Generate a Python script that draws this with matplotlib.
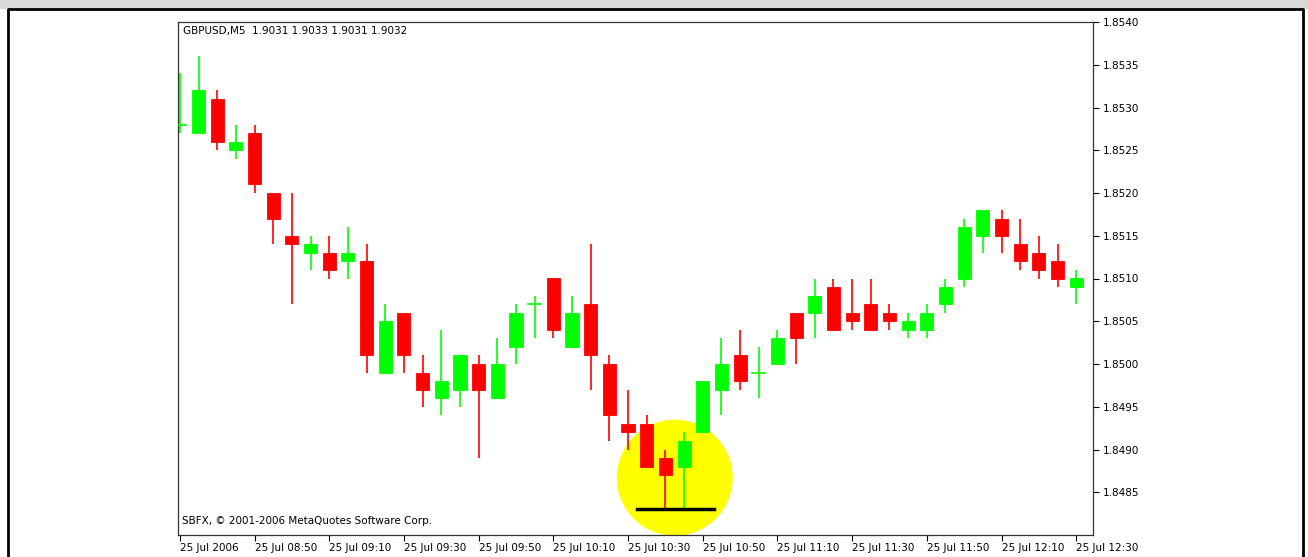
import matplotlib
matplotlib.use("Agg")
import matplotlib.pyplot as plt
from matplotlib.patches import Rectangle, Ellipse
from matplotlib.lines import Line2D

# GBPUSD M5 bars, 25 Jul 2006 08:30 - 12:30
opens = [1.8528, 1.8527, 1.8531, 1.8525, 1.8527, 1.8520, 1.8515, 1.8513, 1.8513, 1.8512,
         1.8512, 1.8499, 1.8506, 1.8499, 1.8496, 1.8497, 1.8500, 1.8496, 1.8502, 1.8507,
         1.8510, 1.8502, 1.8507, 1.8500, 1.8493, 1.8493, 1.8489, 1.8488, 1.8492, 1.8497,
         1.8501, 1.8499, 1.8500, 1.8506, 1.8506, 1.8509, 1.8506, 1.8507, 1.8506, 1.8504,
         1.8504, 1.8507, 1.8510, 1.8515, 1.8517, 1.8514, 1.8513, 1.8512, 1.8509]
highs = [1.8534, 1.8536, 1.8532, 1.8528, 1.8528, 1.8520, 1.8520, 1.8515, 1.8515, 1.8516,
         1.8514, 1.8507, 1.8506, 1.8501, 1.8504, 1.8501, 1.8501, 1.8503, 1.8507, 1.8508,
         1.8510, 1.8508, 1.8514, 1.8501, 1.8497, 1.8494, 1.8490, 1.8492, 1.8498, 1.8503,
         1.8504, 1.8502, 1.8504, 1.8506, 1.8510, 1.8510, 1.8510, 1.8510, 1.8507, 1.8506,
         1.8507, 1.8510, 1.8517, 1.8518, 1.8518, 1.8517, 1.8515, 1.8514, 1.8511]
lows = [1.8527, 1.8527, 1.8525, 1.8524, 1.8520, 1.8514, 1.8507, 1.8511, 1.8510, 1.8510,
        1.8499, 1.8499, 1.8499, 1.8495, 1.8494, 1.8495, 1.8489, 1.8496, 1.8500, 1.8503,
        1.8503, 1.8502, 1.8497, 1.8491, 1.8490, 1.8488, 1.8483, 1.8483, 1.8492, 1.8494,
        1.8497, 1.8496, 1.8500, 1.8500, 1.8503, 1.8504, 1.8504, 1.8504, 1.8504, 1.8503,
        1.8503, 1.8506, 1.8509, 1.8513, 1.8513, 1.8511, 1.8510, 1.8509, 1.8507]
closes = [1.8528, 1.8532, 1.8526, 1.8526, 1.8521, 1.8517, 1.8514, 1.8514, 1.8511, 1.8513,
          1.8501, 1.8505, 1.8501, 1.8497, 1.8498, 1.8501, 1.8497, 1.8500, 1.8506, 1.8507,
          1.8504, 1.8506, 1.8501, 1.8494, 1.8492, 1.8488, 1.8487, 1.8491, 1.8498, 1.8500,
          1.8498, 1.8499, 1.8503, 1.8503, 1.8508, 1.8504, 1.8505, 1.8504, 1.8505, 1.8505,
          1.8506, 1.8509, 1.8516, 1.8518, 1.8515, 1.8512, 1.8511, 1.8510, 1.8510]

x_labels = ["25 Jul 2006", "25 Jul 08:50", "25 Jul 09:10", "25 Jul 09:30", "25 Jul 09:50",
            "25 Jul 10:10", "25 Jul 10:30", "25 Jul 10:50", "25 Jul 11:10", "25 Jul 11:30",
            "25 Jul 11:50", "25 Jul 12:10", "25 Jul 12:30"]
y_ticks = [1.8485, 1.8490, 1.8495, 1.8500, 1.8505, 1.8510, 1.8515, 1.8520,
           1.8525, 1.8530, 1.8535, 1.8540]

# highlighted double bottom
support_level = 1.8483

W, H = 1308, 557
fig = plt.figure(figsize=(W / 100, H / 100), dpi=100)
fig.patch.set_facecolor("white")

# grey strip and outer window frame
fig.patches.append(Rectangle((0, 1 - 9 / H), 1, 9 / H, transform=fig.transFigure,
                             facecolor="#d9d9d9", edgecolor="none", zorder=0))
fig.lines.append(Line2D([8 / W, 8 / W, 1303 / W, 1303 / W], [0, 1 - 9 / H, 1 - 9 / H, 0],
                        transform=fig.transFigure, color="black", lw=2))

ax = fig.add_axes([178 / W, 1 - 535 / H, (1093 - 178) / W, (535 - 22) / H])

n = len(opens)
xs = list(range(n))
body_w = 0.7

# yellow highlight behind candles
ax.add_patch(Ellipse((26.5, 1.84867), 116 / 18.68, 116 / 85400,
                     facecolor="#ffff00", edgecolor="none", zorder=1))

for i in xs:
    o, h, l, c = opens[i], highs[i], lows[i], closes[i]
    col = "#00ff00" if c >= o else "#ff0000"
    ax.plot([i, i], [l, h], color=col, lw=1.2, zorder=2, solid_capstyle="butt")
    if abs(c - o) < 1e-9:
        ax.plot([i - body_w / 2, i + body_w / 2], [o, o], color=col, lw=1.2, zorder=3)
    else:
        ax.add_patch(Rectangle((i - body_w / 2, min(o, c)), body_w, abs(c - o),
                               facecolor=col, edgecolor=col, lw=0.6, zorder=3))

ax.plot([24.5, 28.6], [support_level, support_level], color="black", lw=2.5, zorder=4)

ax.set_xlim(-0.1, 48.9)
ax.set_ylim(1.8480, 1.8540)

ax.yaxis.tick_right()
ax.set_yticks(y_ticks)
ax.set_yticklabels([f"{v:.4f}" for v in y_ticks])
ax.set_xticks(range(0, n, 4))
ax.set_xticklabels(x_labels, ha="left")
ax.tick_params(axis="both", direction="out", length=4, width=0.8, labelsize=7.5,
               pad=2, colors="black")
ax.tick_params(axis="y", pad=3)

for s in ax.spines.values():
    s.set_linewidth(0.9)
    s.set_color("#333333")

ax.text(0.006, 0.992, "GBPUSD,M5  1.9031 1.9033 1.9031 1.9032", transform=ax.transAxes,
        fontsize=7.5, va="top", ha="left")
ax.text(0.004, 0.017, "SBFX, \u00a9 2001-2006 MetaQuotes Software Corp.", transform=ax.transAxes,
        fontsize=7.5, va="bottom", ha="left")

fig.savefig("out.png", dpi=100)
